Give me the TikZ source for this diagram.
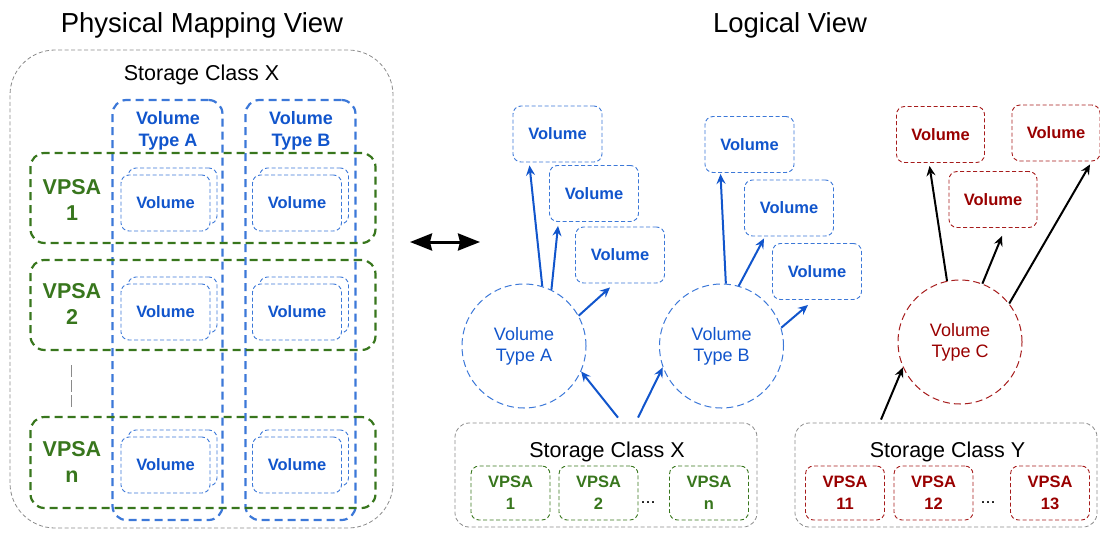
\documentclass[tikz,border=0pt]{standalone}
\usepackage{fontspec}
\setmainfont{Liberation Sans}
\usetikzlibrary{arrows.meta,calc}
\definecolor{tblue}{HTML}{1155CC}
\definecolor{lblue}{HTML}{3C78D8}
\definecolor{tgreen}{HTML}{38761D}
\definecolor{lgreen}{HTML}{38761D}
\definecolor{tred}{HTML}{990000}
\definecolor{lred}{HTML}{A61C1C}
\definecolor{lgray}{HTML}{8A8A8A}
\newcommand{\fs}[1]{\fontsize{#1}{#1}\selectfont}
\begin{document}
\begin{tikzpicture}[x=1pt,y=-1pt,
  gbox/.style={draw=lgray,line width=0.8pt,dash pattern=on 4pt off 2.5pt,rounded corners=14pt},
  colbox/.style={draw=lblue,line width=2.2pt,dash pattern=on 8pt off 5pt,rounded corners=14pt,minimum width=110pt,minimum height=420pt},
  rowbox/.style={draw=lgreen,line width=2.2pt,dash pattern=on 8pt off 5pt,rounded corners=14pt,minimum width=345pt,minimum height=90pt},
  vbox/.style={draw=lblue,line width=0.9pt,dash pattern=on 4pt off 2.5pt,rounded corners=8pt,fill=white,text=tblue,font=\bfseries\fs{16.5},minimum width=89pt,minimum height=56pt},
  backbox/.style={draw=lblue,line width=0.9pt,dash pattern=on 4pt off 2.5pt,rounded corners=8pt,minimum width=89pt,minimum height=56pt},
  rbox/.style={draw=lred,line width=0.9pt,dash pattern=on 4pt off 2.5pt,rounded corners=8pt,text=tred,font=\bfseries\fs{16.5},minimum width=88pt,minimum height=56pt},
  gvp/.style={draw=lgreen,line width=0.9pt,dash pattern=on 4pt off 2.5pt,rounded corners=8pt,text=tgreen,font=\bfseries\fs{16.5},align=center,minimum width=79pt,minimum height=54pt,inner sep=0pt},
  rvp/.style={draw=lred,line width=0.9pt,dash pattern=on 4pt off 2.5pt,rounded corners=8pt,text=tred,font=\bfseries\fs{16.5},align=center,minimum width=79pt,minimum height=54pt,inner sep=0pt},
  circ/.style={circle,line width=1pt,dash pattern=on 7pt off 4pt,minimum size=124pt,align=center,font=\fs{18},inner sep=0pt},
  barr/.style={draw=tblue,line width=2pt,-{Stealth[length=10pt,width=9pt,inset=3.5pt]}},
  karr/.style={draw=black,line width=2pt,-{Stealth[length=10pt,width=9pt,inset=3.5pt]}},
  vpsalab/.style={text=tgreen,font=\bfseries\fs{21.5},align=center,inner sep=0pt}
]
\useasboundingbox (0,0) rectangle (1100,533);

% titles
\node[anchor=base,font=\fs{27.5}] (t1) at (202,32) {Physical Mapping View};
\node[anchor=base,font=\fs{27.5}] (t2) at (790,32) {Logical View};

% ---------- physical mapping view ----------
\node[gbox,rounded corners=45pt,minimum width=383pt,minimum height=478pt] (bigX) at (201.5,289) {};
\node[anchor=base,font=\fs{21.5}] (bigXlab) at (201.5,80) {Storage Class X};

\node[colbox] (colA) at (167.5,310) {};
\node[colbox] (colB) at (300.5,310) {};
\node[text=tblue,font=\bfseries\fs{18},align=center,inner sep=0pt] (colAlab) at (168,131) {Volume\\[4pt]Type A};
\node[text=tblue,font=\bfseries\fs{18},align=center,inner sep=0pt] (colBlab) at (301,131) {Volume\\[4pt]Type B};

\node[rowbox] (row1) at (203,198) {};
\node[rowbox] (row2) at (203,305) {};
\node[rowbox,minimum height=91pt] (rown) at (203,462.5) {};

\node[vpsalab] (r1lab) at (72,200) {VPSA\\[4.5pt]1};
\node[vpsalab] (r2lab) at (72,304) {VPSA\\[4.5pt]2};
\node[vpsalab] (rnlab) at (72,462) {VPSA\\[4.5pt]n};

\coordinate (dt) at (71,365);
\coordinate (db) at (71,408);
\draw[lgray,line width=0.8pt,dash pattern=on 12pt off 3pt] (dt) -- (db);

% inner volumes (back + front)
\foreach \cx/\cy/\nm in {165.5/203/a1,297/203/b1,165.5/312/a2,297/312/b2,165.5/465/an,297/465/bn}{
  \node[backbox] (\nm back) at (\cx+7,\cy-7) {};
  \node[vbox] (\nm) at (\cx,\cy) {Volume};
}

% double arrow
\coordinate (dl) at (410,242);
\coordinate (dr) at (480,242);
\draw[line width=3pt,{Stealth[length=22pt,width=17pt,inset=2pt]}-{Stealth[length=22pt,width=17pt,inset=2pt]}] (dl) -- (dr);

% ---------- logical view ----------
\node[vbox] (va1) at (557.5,134) {Volume};
\node[vbox] (va2) at (594,193.5) {Volume};
\node[vbox] (va3) at (620,255) {Volume};
\node[vbox] (vb1) at (749.5,144.5) {Volume};
\node[vbox] (vb2) at (789,208) {Volume};
\node[vbox] (vb3) at (817,271.5) {Volume};
\node[rbox] (vc1) at (940.5,134.5) {Volume};
\node[rbox] (vc2) at (993,199.5) {Volume};
\node[rbox] (vc3) at (1056,133) {Volume};

\node[circ,draw=lblue,text=tblue] (cA) at (524,346) {Volume\\[3pt]Type A};
\node[circ,draw=lblue,text=tblue] (cB) at (721.5,346) {Volume\\[3pt]Type B};
\node[circ,draw=lred,text=tred] (cC) at (960,342) {Volume\\[3pt]Type C};

\draw[barr] (cA.73) -- ([xshift=-28pt,yshift=-3pt]va1.south);
\draw[barr] (cA.64) -- ([xshift=-36pt,yshift=-4pt]va2.south);
\draw[barr] (cA.29) -- ([xshift=-10pt,yshift=-4pt]va3.south);
\draw[barr] (cB.86) -- ([xshift=-29pt,yshift=-1pt]vb1.south);
\draw[barr] (cB.74) -- ([xshift=-25pt,yshift=-2pt]vb2.south);
\draw[barr] (cB.17) -- ([xshift=-9pt,yshift=-5pt]vb3.south);
\draw[karr] (cC.102) -- ([xshift=-11pt,yshift=-3pt]vc1.south);
\draw[karr] (cC.69) -- ([xshift=9pt,yshift=-8pt]vc2.south);
\draw[karr] (cC.38) -- ([xshift=34pt,yshift=-3pt]vc3.south);

% storage classes
\node[gbox,minimum width=302pt,minimum height=104pt] (scX) at (606,475) {};
\node[anchor=base,font=\fs{21.5}] (scXlab) at (607,457) {Storage Class X};
\node[gvp] (gx1) at (510.5,493) {VPSA\\[5.5pt]1};
\node[gvp] (gx2) at (598.5,493) {VPSA\\[5.5pt]2};
\node[gvp] (gxn) at (709,493) {VPSA\\[5.5pt]n};
\node[font=\fs{18}] (dotsX) at (648,503) {...};

\node[gbox,minimum width=302pt,minimum height=104pt] (scY) at (946,475) {};
\node[anchor=base,font=\fs{21.5}] (scYlab) at (947.5,457) {Storage Class Y};
\node[rvp] (ry1) at (845,493) {VPSA\\[5.5pt]11};
\node[rvp] (ry2) at (933.5,493) {VPSA\\[5.5pt]12};
\node[rvp] (ry3) at (1050,493) {VPSA\\[5.5pt]13};
\node[font=\fs{18}] (dotsY) at (988,503) {...};

\draw[barr] ([xshift=12pt,yshift=5pt]scX.north) -- (cA.-24);
\draw[barr] ([xshift=32pt,yshift=5pt]scX.north) -- (cB.200);
\draw[karr] ([xshift=-65pt,yshift=3pt]scY.north) -- (cC.204);
\end{tikzpicture}
\end{document}
